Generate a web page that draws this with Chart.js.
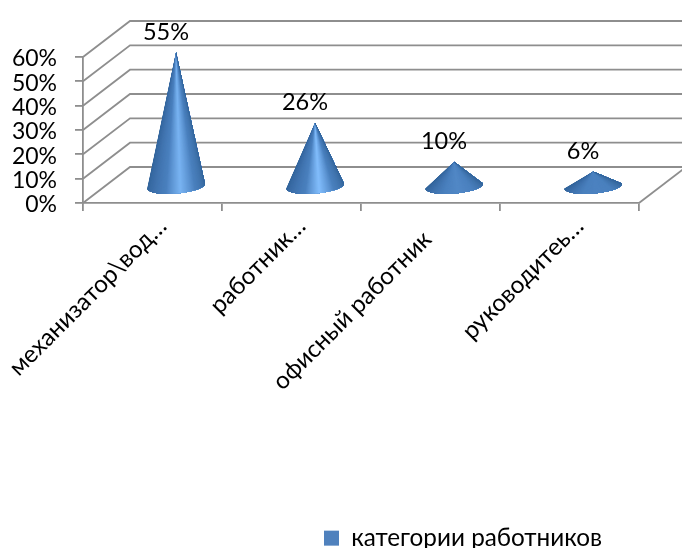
<!DOCTYPE html>
<html><head><meta charset="utf-8">
<style>html,body{margin:0;padding:0;background:#fff}canvas{display:block}</style>
<script src="https://cdn.jsdelivr.net/npm/chart.js@4"></script>
</head><body><canvas id="c" width="682" height="548"></canvas>
<script>
const categories = ['механизатор\\вод…', 'работник…', 'офисный работник', 'руководитеь…'];
const percentValues = [55, 26, 10, 6];
const seriesName = 'категории работников';
const axisMax = 60;
const axisStep = 10;

const FONT = 'Lato, "Noto Sans", sans-serif';
const GRID = '#8e8e8e';
const DEPTH_X = 47, DEPTH_Y = 36;
const CONE_RX = 29, CONE_TILT = -0.085, CONE_RY = 7.5;

function mix(a, b, t) { return a.map((v, i) => v + (b[i] - v) * t); }
function shade(t, h) {
  const stops = [[0, [48, 98, 152]], [0.18, [60, 110, 168]], [0.38, [74, 128, 190]],
    [0.54, mix([76, 130, 192], [132, 192, 255], h)], [0.72, [74, 128, 190]], [0.9, [60, 110, 165]], [1, [50, 100, 155]]];
  for (let i = 1; i < stops.length; i++) {
    if (t <= stops[i][0]) {
      const c = mix(stops[i - 1][1], stops[i][1], (t - stops[i - 1][0]) / (stops[i][0] - stops[i - 1][0]));
      return `rgb(${c.map(Math.round).join(',')})`;
    }
  }
  return 'rgb(50,100,155)';
}
function drawCone(ctx, ax, ay, by, h) {
  const cos = Math.cos(CONE_TILT), sin = Math.sin(CONE_TILT);
  const pt = a => {
    const ex = CONE_RX * Math.cos(a), ey = CONE_RY * Math.sin(a);
    return [ax + ex * cos - ey * sin, by + ex * sin + ey * cos];
  };
  ctx.save();
  ctx.beginPath();
  ctx.moveTo(ax, ay);
  for (let i = 0; i <= 60; i++) { const p = pt(i / 60 * Math.PI); ctx.lineTo(p[0], p[1]); }
  ctx.closePath();
  ctx.clip();
  const N = 80, f = 1.3;
  const far = (p) => [ax + (p[0] - ax) * f, ay + (p[1] - ay) * f];
  for (let i = 0; i < N; i++) {
    const p0 = far(pt(Math.PI - i / N * Math.PI));
    ctx.beginPath();
    ctx.moveTo(ax, ay);
    ctx.lineTo(p0[0], p0[1]);
    ctx.lineTo(p0[0], by + 60);
    ctx.lineTo(ax + CONE_RX * 2, by + 60);
    ctx.lineTo(ax + CONE_RX * 2, ay - 5);
    ctx.closePath();
    ctx.fillStyle = shade((i + 0.5) / N, h);
    ctx.fill();
  }
  ctx.restore();
}

const scene = {
  id: 'scene',
  afterLayout(chart) {
    const l = chart.legend;
    l.left = 324; l.right = 682; l.top = 526; l.bottom = 548;
  },
  beforeDatasetsDraw(chart) {
    const { ctx, chartArea: a, scales: { y } } = chart;
    ctx.save();
    ctx.strokeStyle = GRID;
    ctx.lineWidth = 1.8;
    y.ticks.forEach(t => {
      const py = y.getPixelForValue(t.value);
      ctx.beginPath();
      ctx.moveTo(a.left, py);
      ctx.lineTo(a.left + DEPTH_X, py - DEPTH_Y);
      ctx.lineTo(a.right + DEPTH_X, py - DEPTH_Y);
      ctx.stroke();
    });
    const y0 = y.getPixelForValue(0);
    ctx.beginPath();
    ctx.moveTo(a.right, y0);
    ctx.lineTo(a.right + DEPTH_X, y0 - DEPTH_Y);
    ctx.stroke();
    ctx.restore();
  },
  beforeDatasetDraw(chart, args) {
    const { ctx, scales: { y } } = chart;
    const y0 = y.getPixelForValue(0);
    const meta = chart.getDatasetMeta(args.index);
    meta.data.forEach((el, i) => {
      const ax = el.x + DEPTH_X / 2, ay = el.y - 17, by = y0 - 17;
      const h = Math.min(1, Math.max(0, ((by - ay) - 20) / 45));
      drawCone(ctx, ax, ay, by, h * (by - ay > 100 ? 0.8 : 1));
      ctx.save();
      ctx.font = '23.5px ' + FONT;
      ctx.fillStyle = '#000';
      ctx.textAlign = 'center';
      ctx.textBaseline = 'middle';
      ctx.fillText(percentValues[i] + '%', ax - 10, ay - 20);
      ctx.restore();
    });
    return false;
  }
};

new Chart(document.getElementById('c'), {
  type: 'bar',
  data: { labels: categories, datasets: [{ label: seriesName, data: percentValues, backgroundColor: '#4f81bd' }] },
  plugins: [scene],
  options: {
    responsive: false,
    animation: false,
    layout: { autoPadding: false, padding: { left: 0, right: 43, top: 57, bottom: 0 } },
    plugins: {
      tooltip: { enabled: false },
      legend: {
        position: 'chartArea',
        align: 'start',
        labels: { boxWidth: 15, boxHeight: 15, padding: 0, color: '#000', font: { family: FONT, size: 24.3 } }
      }
    },
    scales: {
      y: {
        min: 0, max: axisMax,
        afterFit(s) { s.width = 83; s.paddingTop = 0; s.paddingBottom = 0; },
        ticks: { autoSkip: false, stepSize: axisStep, padding: 18, labelOffset: 2, color: '#000', font: { family: FONT, size: 23 }, callback: v => v + '%' },
        grid: { drawOnChartArea: false, drawTicks: true, tickLength: 8, color: GRID, lineWidth: 1.8 },
        border: { display: true, color: GRID, width: 1.8 }
      },
      x: {
        afterFit(s) { s.height = 345; s.paddingLeft = 0; s.paddingRight = 0; },
        ticks: {
          autoSkip: false, minRotation: 45, maxRotation: 45, padding: 1, labelOffset: 10, color: '#000',
          font: { family: FONT, size: 24.2 },
          callback(v) { const l = categories[v]; return l.endsWith('…') ? l : l + '\u00a0\u00a0\u00a0'; }
        },
        grid: { drawOnChartArea: false, drawTicks: true, tickLength: 8, color: GRID, lineWidth: 1.8 },
        border: { display: true, color: GRID, width: 1.8 }
      }
    }
  }
});
</script></body></html>
